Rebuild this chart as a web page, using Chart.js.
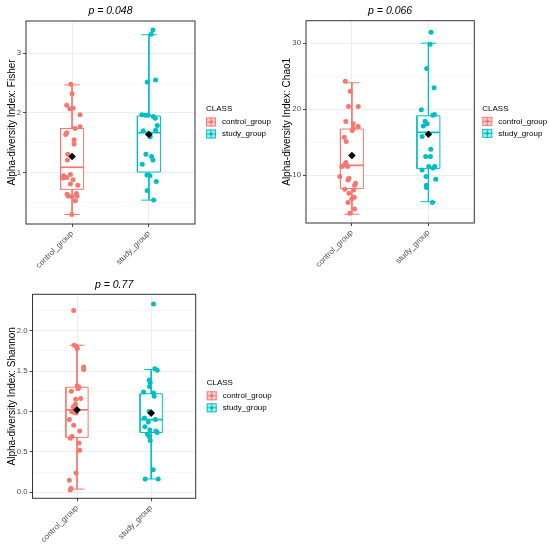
<!DOCTYPE html>
<html>
<head>
<meta charset="utf-8">
<script src="https://cdn.jsdelivr.net/npm/chart.js@4.4.0/dist/chart.umd.min.js"></script>
<style>
    html, body { margin: 0; padding: 0; background: #fff; }
    #wrap { position: relative; width: 550px; height: 548px; overflow: hidden; }
    canvas { position: absolute; }
</style>
</head>
<body>
<div id="wrap">
    <canvas id="fisher-chart" width="275" height="268" style="left:0;top:0;width:275px;height:268px"></canvas>
    <canvas id="chao1-chart" width="275" height="268" style="left:275px;top:0;width:275px;height:268px"></canvas>
    <canvas id="shannon-chart" width="275" height="278" style="left:0;top:270px;width:275px;height:278px"></canvas>
</div>
<script>
const groups = ["control_group", "study_group"];
const groupColors = ["#F8766D", "#00BFC4"];

// box stats per group: [lower whisker, Q1, median, Q3, upper whisker]
const fisherMajorTicks = [1, 2, 3];
const fisherMinorTicks = [0.5, 1.5, 2.5, 3.5];
const fisherBoxStats = [[0.30, 0.72, 1.09, 1.74, 2.47], [0.54, 1.01, 1.67, 1.95, 3.31]];
const fisherMeans = [1.27, 1.64];
const fisherControl = [2.48, 2.32, 2.13, 2.07, 2.08, 1.97, 1.77, 1.74, 1.67, 1.64, 1.55, 1.48, 1.31, 1.21,
    0.97, 0.95, 0.92, 0.91, 0.88, 0.81, 0.79, 0.64, 0.65, 0.61, 0.61, 0.60, 0.53, 0.30];
const fisherControlJitter = [-0.017, 0, -0.07, -0.03, 0.013, 0.104, 0.104, 0.039, -0.07, -0.083, 0.026, 0.026, -0.057, -0.061,
    -0.022, -0.109, -0.07, -0.117, 0.013, -0.022, 0.074, -0.065, 0.057, 0.065, -0.052, 0, 0.043, -0.004];
const fisherStudy = [3.39, 3.32, 2.52, 2.55, 1.97, 1.96, 1.96, 1.94, 1.91, 1.79, 1.71, 1.70, 1.65, 1.60,
    1.31, 1.27, 1.21, 1.14, 0.96, 0.95, 0.85, 0.70, 0.54];
const fisherStudyJitter = [0.052, 0.03, -0.022, 0.087, -0.091, -0.043, -0.009, 0.057, 0.083, 0.109, 0.087, -0.074, -0.013, 0.017,
    -0.039, 0.035, 0.052, -0.087, -0.026, 0.013, 0.096, -0.022, 0.061];

const chao1MajorTicks = [10, 20, 30];
const chao1MinorTicks = [5, 15, 25];
const chao1BoxStats = [[4.1, 8.0, 11.5, 17.0, 24.0], [6.0, 11.0, 16.5, 19.0, 30.0]];
const chao1Means = [13.0, 16.2];
const chao1Control = [24.24, 22.73, 20.40, 20.40, 18.13, 17.78, 17.37, 17.12, 16.77, 15.76, 15.10, 11.92, 11.57, 11.31,
    11.31, 9.80, 9.55, 9.29, 8.79, 8.48, 7.88, 7.78, 7.27, 6.67, 6.41, 5.86, 4.90, 4.24];
const chao1ControlJitter = [-0.087, -0.022, -0.044, 0.083, -0.079, 0.017, 0.083, 0.017, 0.004, -0.1, -0.074, -0.079, -0.096, -0.131,
    -0.057, -0.157, -0.039, -0.052, 0.048, 0.035, -0.092, 0.022, -0.039, 0.031, -0.004, -0.052, 0.035, -0.026];
const chao1Study = [31.67, 29.85, 26.16, 23.23, 19.90, 19.09, 19.19, 18.18, 17.78, 17.47, 15.86, 13.94, 12.83, 12.83,
    10.81, 11.31, 11.31, 11.11, 9.80, 9.39, 8.48, 8.13, 5.86];
const chao1StudyJitter = [0.035, 0.022, -0.022, 0.074, -0.092, 0.057, 0.079, -0.044, -0.017, -0.066, -0.083, 0.031, -0.035, 0.026,
    -0.083, 0.004, 0.083, 0.061, -0.031, 0.096, -0.026, -0.026, 0.052];

const shannonMajorTicks = [0, 0.5, 1, 1.5, 2];
const shannonMinorTicks = [0.25, 0.75, 1.25, 1.75, 2.25];
const shannonBoxStats = [[0.04, 0.68, 1.02, 1.30, 1.82], [0.165, 0.74, 0.90, 1.22, 1.52]];
const shannonMeans = [1.02, 0.98];
const shannonControl = [2.25, 1.82, 1.80, 1.78, 1.55, 1.52, 1.32, 1.30, 1.25, 1.28, 1.16, 1.15, 1.09, 1.06,
    1.00, 0.99, 0.98, 0.90, 0.83, 0.76, 0.69, 0.67, 0.61, 0.52, 0.24, 0.15, 0.05, 0.03];
const shannonControlJitter = [-0.045, -0.036, -0.004, 0.004, 0.09, 0.09, 0.004, 0.027, -0.076, 0.013, 0.049, -0.018, -0.022, -0.049,
    -0.072, -0.045, -0.013, -0.103, -0.045, 0.036, -0.067, -0.09, 0.027, 0.036, -0.013, -0.103, -0.081, -0.09];
const shannonStudy = [2.33, 1.53, 1.51, 1.39, 1.36, 1.31, 1.24, 1.23, 1.19, 1.00, 0.92, 0.87, 0.90, 0.81,
    0.76, 0.74, 0.77, 0.72, 0.69, 0.64, 0.28, 0.165, 0.165];
const shannonStudyJitter = [0.031, 0.049, 0.081, -0.027, -0.013, -0.022, -0.103, 0.031, 0.04, -0.027, -0.09, -0.04, 0.058, -0.085,
    0.063, 0.081, -0.018, -0.049, -0.027, -0.013, 0.027, -0.081, 0.094];

const FONT = '"Liberation Sans", Arial, sans-serif';
const BOX_HALF = 0.15;
const CAP_HALF = 0.1;
Chart.defaults.font.family = FONT;

// grey frame round the panel, like theme_bw
const panelBorder = {
    id: "panelBorder",
    afterDraw(chart) {
        const { ctx, chartArea: a } = chart;
        ctx.save();
        ctx.strokeStyle = "#333333";
        ctx.lineWidth = 1;
        ctx.strokeRect(a.left, a.top, a.right - a.left, a.bottom - a.top);
        ctx.restore();
    },
};

const classLegend = {
    id: "classLegend",
    afterDraw(chart, args, opts) {
        const { ctx, chartArea: a } = chart;
        const x0 = a.right + opts.gap;
        const yc = (a.top + a.bottom) / 2;
        ctx.save();
        ctx.font = `8px ${FONT}`;
        ctx.textBaseline = "middle";
        ctx.textAlign = "left";
        ctx.fillStyle = "#000";
        ctx.fillText("CLASS", x0, yc - 13.5);
        groups.forEach((name, i) => {
            const y = yc - 0.5 + i * 12;
            const col = groupColors[i];
            ctx.globalAlpha = 0.35;
            ctx.fillStyle = col;
            ctx.fillRect(x0, y - 4.5, 10, 9);
            ctx.globalAlpha = 1;
            ctx.strokeStyle = col;
            ctx.lineWidth = 0.9;
            ctx.strokeRect(x0 + 0.5, y - 4, 9, 8);
            ctx.beginPath();
            ctx.moveTo(x0, y); ctx.lineTo(x0 + 10, y);
            ctx.moveTo(x0 + 5, y - 4.5); ctx.lineTo(x0 + 5, y + 4.5);
            ctx.stroke();
            ctx.fillStyle = col;
            ctx.beginPath();
            ctx.arc(x0 + 5, y, 1.8, 0, Math.PI * 2);
            ctx.fill();
            ctx.fillStyle = "#000";
            ctx.fillText(name, x0 + 16, y);
        });
        ctx.restore();
    },
};

function lineDataset(data, color, extra) {
    return Object.assign({
        type: "line",
        data,
        borderColor: color,
        borderWidth: 1,
        borderJoinStyle: "miter",
        pointRadius: 0,
        fill: false,
        tension: 0,
        spanGaps: false,
    }, extra);
}

function groupDatasets(gi, stats, mean, values, jitter) {
    const c = gi + 1;
    const col = groupColors[gi];
    const [low, q1, med, q3, high] = stats;
    return [
        lineDataset([
            { x: c - CAP_HALF, y: high }, { x: c + CAP_HALF, y: high }, { x: c, y: null },
            { x: c, y: high }, { x: c, y: low }, { x: c, y: null },
            { x: c - CAP_HALF, y: low }, { x: c + CAP_HALF, y: low },
        ], col, { order: 4 }),
        lineDataset([
            { x: c - BOX_HALF, y: q1 }, { x: c + BOX_HALF, y: q1 }, { x: c + BOX_HALF, y: q3 },
            { x: c - BOX_HALF, y: q3 }, { x: c - BOX_HALF, y: q1 },
        ], col, { order: 3, fill: "shape", backgroundColor: "#ffffff" }),
        lineDataset([{ x: c - BOX_HALF, y: med }, { x: c + BOX_HALF, y: med }], col, { order: 2, borderWidth: 1.7 }),
        {
            type: "scatter",
            data: values.map((v, i) => ({ x: c + jitter[i], y: v })),
            backgroundColor: col,
            borderWidth: 0,
            pointRadius: 2.5,
            order: 1,
        },
        {
            type: "scatter",
            data: [{ x: c, y: mean }],
            pointStyle: "rectRot",
            pointRadius: 3.8,
            backgroundColor: "#000",
            borderWidth: 0,
            order: 0,
        },
    ];
}

function makePanel(p) {
    const isMajor = (v) => p.major.includes(v);
    const datasets = [
        ...groupDatasets(0, p.boxStats[0], p.means[0], p.control, p.controlJitter),
        ...groupDatasets(1, p.boxStats[1], p.means[1], p.study, p.studyJitter),
    ];
    return new Chart(document.getElementById(p.canvas), {
        data: { datasets },
        plugins: [panelBorder, classLegend],
        options: {
            responsive: false,
            animation: false,
            events: [],
            layout: { padding: { left: 0, right: p.padRight, top: 0, bottom: 0 } },
            plugins: {
                legend: { display: false },
                tooltip: { enabled: false },
                title: {
                    display: true,
                    text: p.title,
                    fullSize: false,
                    color: "#000",
                    font: { family: FONT, size: 10.5, style: "italic", weight: "normal" },
                    padding: p.titlePad,
                },
                classLegend: { gap: p.legendGap },
            },
            scales: {
                x: {
                    type: "linear",
                    min: 0.4,
                    max: 2.6,
                    afterBuildTicks: (s) => { s.ticks = groups.map((g, i) => ({ value: i + 1 })); },
                    afterFit: (s) => { s.height = p.xHeight; },
                    ticks: {
                        autoSkip: false,
                        minRotation: 45,
                        maxRotation: 45,
                        padding: 2,
                        color: "#4D4D4D",
                        font: { family: FONT, size: 8 },
                        callback: (v) => groups[v - 1],
                    },
                    grid: { color: "#EBEBEB", lineWidth: 0.9, tickLength: 3, tickColor: "#333333" },
                    border: { display: false },
                },
                y: {
                    type: "linear",
                    min: p.min,
                    max: p.max,
                    afterBuildTicks: (s) => {
                        s.ticks = [...p.major, ...p.minor].sort((a, b) => a - b).map((v) => ({ value: v }));
                    },
                    afterFit: (s) => { s.width = p.yWidth; },
                    ticks: {
                        autoSkip: false,
                        padding: 2,
                        color: "#4D4D4D",
                        font: { family: FONT, size: 7.8 },
                        callback: (v) => (isMajor(v) ? v.toFixed(p.decimals) : ""),
                    },
                    grid: {
                        color: (c) => (c.tick && isMajor(c.tick.value) ? "#EBEBEB" : "#F3F3F3"),
                        lineWidth: (c) => (c.tick && isMajor(c.tick.value) ? 0.9 : 0.6),
                        tickLength: 3,
                        tickColor: (c) => (c.tick && isMajor(c.tick.value) ? "#333333" : "rgba(0,0,0,0)"),
                    },
                    border: { display: false },
                    title: {
                        display: true,
                        text: p.yTitle,
                        color: "#000",
                        font: { family: FONT, size: 10 },
                        padding: { top: 6, bottom: 0 },
                    },
                },
            },
        },
    });
}

makePanel({
    canvas: "fisher-chart", title: "p = 0.048", yTitle: "Alpha-diversity Index: Fisher",
    min: 0.14, max: 3.54, major: fisherMajorTicks, minor: fisherMinorTicks, decimals: 0,
    boxStats: fisherBoxStats, means: fisherMeans,
    control: fisherControl, controlJitter: fisherControlJitter, study: fisherStudy, studyJitter: fisherStudyJitter,
    yWidth: 26, xHeight: 44, padRight: 80, titlePad: { top: 5.2, bottom: 3.2 }, legendGap: 11,
});

makePanel({
    canvas: "chao1-chart", title: "p = 0.066", yTitle: "Alpha-diversity Index: Chao1",
    min: 2.77, max: 33.4, major: chao1MajorTicks, minor: chao1MinorTicks, decimals: 0,
    boxStats: chao1BoxStats, means: chao1Means,
    control: chao1Control, controlJitter: chao1ControlJitter, study: chao1Study, studyJitter: chao1StudyJitter,
    yWidth: 31, xHeight: 45, padRight: 75.7, titlePad: { top: 4.9, bottom: 3.2 }, legendGap: 8,
});

makePanel({
    canvas: "shannon-chart", title: "p = 0.77", yTitle: "Alpha-diversity Index: Shannon",
    min: -0.074, max: 2.45, major: shannonMajorTicks, minor: shannonMinorTicks, decimals: 1,
    boxStats: shannonBoxStats, means: shannonMeans,
    control: shannonControl, controlJitter: shannonControlJitter, study: shannonStudy, studyJitter: shannonStudyJitter,
    yWidth: 32.5, xHeight: 49.7, padRight: 79.3, titlePad: { top: 9.2, bottom: 2.5 }, legendGap: 11,
});
</script>
</body>
</html>
